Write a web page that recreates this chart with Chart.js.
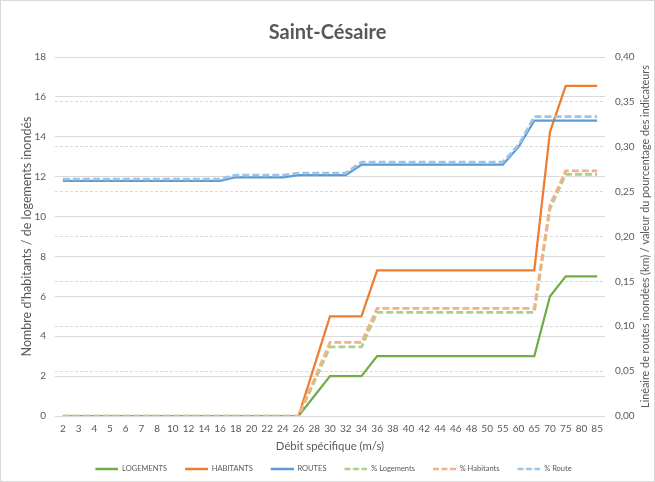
<!DOCTYPE html>
<html>
<head>
<meta charset="utf-8">
<script src="https://cdn.jsdelivr.net/npm/chart.js@4.4.1/dist/chart.umd.min.js"></script>
<style>
  html, body { margin: 0; padding: 0; background: #fff; overflow: hidden; }
  #cadre { width: 655px; height: 482px; box-sizing: border-box; border: 1px solid #d9d9d9; }
  #graphe { display: block; }
</style>
</head>
<body>
<div id="cadre"><canvas id="graphe" width="653" height="480"></canvas></div>
<script>
// Débits (catégories de l'axe X)
const debits = ['2', '3', '4', '5', '6', '7', '8', '10', '12', '14', '16', '18', '20', '22', '24', '26', '28', '30',
  '32', '34', '36', '38', '40', '42', '44', '46', '48', '50', '55', '60', '65', '70', '75', '80', '85'];

// Axe gauche : nombre de logements / habitants inondés
const logements = [0, 0, 0, 0, 0, 0, 0, 0, 0, 0, 0, 0, 0, 0, 0, 0, 1, 2,
  2, 2, 3, 3, 3, 3, 3, 3, 3, 3, 3, 3, 3, 6, 7, 7, 7];
const habitants = [0, 0, 0, 0, 0, 0, 0, 0, 0, 0, 0, 0, 0, 0, 0, 0, 2.5, 5,
  5, 5, 7.3, 7.3, 7.3, 7.3, 7.3, 7.3, 7.3, 7.3, 7.3, 7.3, 7.3, 14.25, 16.55, 16.55, 16.55];

// Axe droit : linéaire de routes (km) et pourcentages
const routes = [0.262, 0.262, 0.262, 0.262, 0.262, 0.262, 0.262, 0.262, 0.262, 0.262, 0.262, 0.266, 0.266, 0.266, 0.266, 0.2685, 0.2685, 0.2685,
  0.2685, 0.28, 0.28, 0.28, 0.28, 0.28, 0.28, 0.28, 0.28, 0.28, 0.28, 0.30, 0.329, 0.329, 0.329, 0.329, 0.329];
const pctLogements = [0, 0, 0, 0, 0, 0, 0, 0, 0, 0, 0, 0, 0, 0, 0, 0, 0.038, 0.0769,
  0.0769, 0.0769, 0.1154, 0.1154, 0.1154, 0.1154, 0.1154, 0.1154, 0.1154, 0.1154, 0.1154, 0.1154, 0.1154, 0.2308, 0.2692, 0.2692, 0.2692];
const pctHabitants = [0, 0, 0, 0, 0, 0, 0, 0, 0, 0, 0, 0, 0, 0, 0, 0, 0.041, 0.082,
  0.082, 0.082, 0.12, 0.12, 0.12, 0.12, 0.12, 0.12, 0.12, 0.12, 0.12, 0.12, 0.12, 0.235, 0.273, 0.273, 0.273];
const pctRoute = [0.264, 0.264, 0.264, 0.264, 0.264, 0.264, 0.264, 0.264, 0.264, 0.264, 0.264, 0.2685, 0.2685, 0.2685, 0.2685, 0.2705, 0.2705, 0.2705,
  0.2705, 0.283, 0.283, 0.283, 0.283, 0.283, 0.283, 0.283, 0.283, 0.283, 0.283, 0.302, 0.3335, 0.3335, 0.3335, 0.3335, 0.3335];

const ticksGauche = [0, 2, 4, 6, 8, 10, 12, 14, 16, 18];
const ticksDroite = [0, 0.05, 0.10, 0.15, 0.20, 0.25, 0.30, 0.35, 0.40];

const gris = '#595959';
const police = 'Lato, "Open Sans", sans-serif';
const titreDroite = 'Linéaire de routes inondées (km) / valeur du pourcentage des indicateurs';

// petit trait (plein ou tireté) pour la légende, avec une marge vide à gauche
function trait(couleur, tirets) {
  const c = document.createElement('canvas');
  c.width = 35; c.height = 4;
  const g = c.getContext('2d');
  g.strokeStyle = couleur;
  g.lineWidth = 2.5;
  if (tirets) g.setLineDash([6, 2.5]);
  g.beginPath(); g.moveTo(12, 2); g.lineTo(35, 2); g.stroke();
  return c;
}

function serie(label, valeurs, couleur, axe, tirets, ordre) {
  return {
    label: label,
    data: valeurs,
    yAxisID: axe,
    borderColor: couleur,
    backgroundColor: couleur,
    borderWidth: tirets ? 2.75 : 2.25,
    borderDash: tirets ? [7, 3] : [],
    pointRadius: 0,
    tension: 0,
    order: ordre,
    _trait: trait(couleur, tirets)
  };
}

// titre de l'axe droit (lu de bas en haut comme dans l'original)
const titreAxeDroit = {
  id: 'titreAxeDroit',
  afterDraw(chart) {
    const { ctx, chartArea } = chart;
    ctx.save();
    ctx.translate(645, (chartArea.top + chartArea.bottom) / 2);
    ctx.rotate(-Math.PI / 2);
    ctx.font = '10.8px ' + police;
    ctx.fillStyle = gris;
    ctx.textAlign = 'center';
    ctx.textBaseline = 'middle';
    ctx.fillText(titreDroite, 0, 0);
    ctx.restore();
  }
};

const graphe = new Chart(document.getElementById('graphe'), {
  type: 'line',
  data: {
    labels: debits,
    datasets: [
      serie('LOGEMENTS', logements, '#70AD47', 'y', false, 6),
      serie('HABITANTS', habitants, '#ED7D31', 'y', false, 5),
      serie('ROUTES', routes, '#5B9BD5', 'y1', false, 4),
      serie('% Logements', pctLogements, '#A9D18E', 'y1', true, 3),
      serie('% Habitants', pctHabitants, '#F4B183', 'y1', true, 2),
      serie('% Route', pctRoute, '#9DC3E6', 'y1', true, 1)
    ]
  },
  options: {
    responsive: false,
    devicePixelRatio: 1,
    animation: false,
    layout: { padding: { left: 0, right: 0, top: 0, bottom: -1.75 } },
    plugins: {
      title: {
        display: true,
        text: 'Saint-Césaire',
        color: gris,
        font: { family: police, size: 20, weight: 'bold' },
        padding: { top: 20, bottom: 12 }
      },
      legend: {
        position: 'bottom',
        maxHeight: 24,
        labels: {
          usePointStyle: true,
          pointStyleWidth: 35,
          padding: 6,
          color: gris,
          font: { family: police, size: 7.5 },
          sort: (a, b) => a.datasetIndex - b.datasetIndex,
          generateLabels: chart => chart.data.datasets.map((ds, i) => ({
            text: ds.label,
            fillStyle: ds.borderColor,
            strokeStyle: ds.borderColor,
            lineWidth: 0,
            pointStyle: ds._trait,
            fontColor: gris,
            hidden: !chart.isDatasetVisible(i),
            datasetIndex: i
          }))
        }
      },
      tooltip: { enabled: false }
    },
    scales: {
      x: {
        offset: true,
        grid: { display: false, drawTicks: false },
        border: { display: false },
        ticks: {
          color: gris,
          font: { family: police, size: 10 },
          autoSkip: false,
          maxRotation: 0,
          padding: 7
        },
        title: {
          display: true,
          text: 'Débit spécifique (m/s)',
          color: gris,
          font: { family: police, size: 11.3 },
          padding: { top: 0, bottom: 6.5 }
        },
        afterFit: s => { s.height = 43.25; }
      },
      y: {
        position: 'left',
        min: 0,
        max: 18,
        afterBuildTicks: s => { s.ticks = ticksGauche.map(v => ({ value: v })); },
        grid: { color: '#d9d9d9', lineWidth: 1, drawTicks: false },
        border: { display: false },
        ticks: { color: gris, font: { family: police, size: 10 }, padding: 9 },
        title: {
          display: true,
          text: "Nombre d'habitants / de logements inondés",
          color: gris,
          font: { family: police, size: 12.5 },
          padding: { top: 18.5, bottom: 0 }
        },
        afterFit: s => { s.width = 54; }
      },
      y1: {
        position: 'right',
        min: 0,
        max: 0.4,
        afterBuildTicks: s => { s.ticks = ticksDroite.map(v => ({ value: v })); },
        grid: { color: '#d9d9d9', lineWidth: 1, drawTicks: false },
        border: { display: false, dash: [3, 2] },
        ticks: {
          color: gris,
          font: { family: police, size: 10 },
          padding: 10,
          callback: v => v.toFixed(2).replace('.', ',')
        },
        afterFit: s => { s.width = 49; }
      }
    }
  },
  plugins: [titreAxeDroit]
});
</script>
</body>
</html>
